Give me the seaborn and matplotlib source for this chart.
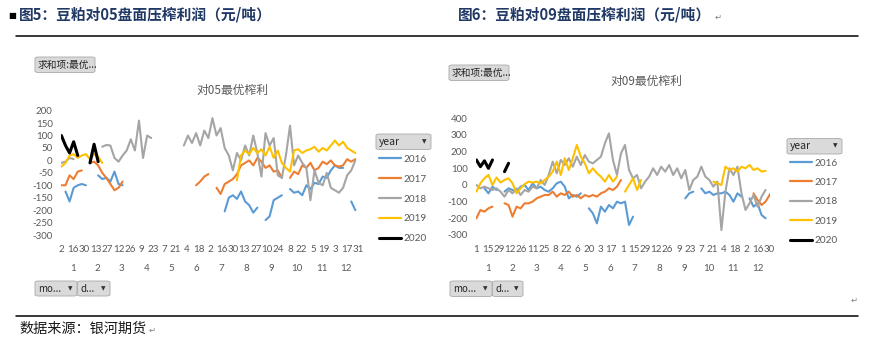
import numpy as np
import pandas as pd
import matplotlib
matplotlib.use("Agg")
import matplotlib.pyplot as plt
import matplotlib.transforms as mtransforms
from matplotlib.patches import FancyBboxPatch
from matplotlib.lines import Line2D
import seaborn as sns

sns.set_theme(style="white")
plt.rcParams["font.family"] = ["Lato", "Noto Sans CJK SC", "DejaVu Sans"]
CJK = ["Noto Sans CJK SC", "DejaVu Sans"]

N = None
STEP = 5  # one value every 5 calendar categories
years = ["2016", "2017", "2018", "2019", "2020"]
colors = ["#5B9BD5", "#ED7D31", "#A5A5A5", "#FFC000", "#000000"]
month_labels = [str(m) for m in range(1, 13)]

# ---------------- left chart: 对05最优榨利 (categories start Jan 2) ----------------
left_day_labels = ["2", "16", "30", "13", "27", "12", "26", "9", "23", "7", "21", "4", "18",
                   "2", "16", "30", "13", "27", "10", "24", "8", "22", "5", "19", "3", "17", "31"]
left_month_sizes = [30, 29, 31, 30, 31, 30, 31, 31, 30, 31, 30, 31]
left_yticks = [-300, -250, -200, -150, -100, -50, 0, 50, 100, 150, 200]

l2016 = [N, -125, -165, -110, -100, -95, -100, N, N, -60, -75, -70, -85, -45, -95, -100,
         N, N, N, N, N, N, N, N, N, N, N, N, N, N, N, N, N, N, N, N, N, N, N, N,
         -205, -150, -140, -155, -125, -165, -180, -210, -190, N, -240, -225, -160, -150, -140, N,
         -115, -130, -125, -140, -100, -115, -90, -95, -65, -70, -40, -20, -30, -30, N, -165, -200]
l2017 = [-100, -100, -60, -75, -45, -40, N, -10, -5, -20, -50, -70, -95, -120, -110, -85,
         N, N, N, N, N, N, N, N, N, N, N, N, N, N, N, N, N,
         -100, -85, -65, -55, N, -110, -135, -95, -85, -75, -55, -20, -10, 0, -20, 10, -5,
         -30, -20, -45, -40, -70, N, -70, -45, -55, -20, -30, -10, -40, -30, -5, -15, 0, -20,
         -25, -20, 5, -5, 5]
l2018 = [-10, -5, 10, 5, N, N, N, N, N, N, 55, 62, 60, 10, -5, 20, 40, 85, 40, 160, 10, 100, 90,
         N, N, N, N, N, N, N,
         60, 100, 70, 110, 60, 120, 90, 170, 100, 130, 50, 20, -40, 30, 0, 60, 20, 100, 30, -65,
         110, 60, 90, -60, -70, 20, 140, -20, 20, -10, -30, -160, -40, -90, -100, -50, -110, -120,
         -130, -110, -60, -40, 0]
l2019 = [-25, -10, 20, 25, 10, 20, 25, 5, 25, 15, -10,
         N, N, N, N, N, N, N, N, N, N, N, N, N, N, N, N, N, N, N, N, N, N, N, N, N, N, N, N, N, N, N, N,
         -80, 20, 40, 25, 50, 30, 45, 20, 55, 10, 40, -10, -30, -45, 40, 45, 30, 40, 45, 55, 35, 50,
         40, 60, 80, 60, 75, 50, 40, 30]
l2020 = [100, 60, 30, 75, 20, N, N, -10, 65, -5] + [N] * 63

# ---------------- right chart: 对09最优榨利 (categories start Jan 1) ----------------
right_day_labels = ["1", "15", "29", "12", "26", "11", "25", "8", "22", "6", "20", "3", "17",
                    "1", "15", "29", "12", "26", "9", "23", "7", "21", "4", "18", "2", "16", "30"]
right_month_sizes = [31, 29, 31, 30, 31, 30, 31, 31, 30, 31, 30, 31]
right_yticks = [-300, -200, -100, 0, 100, 200, 300, 400]

r2016 = [N, N, -20, -50, -10, -30, N, -40, -20, -30, -40, -10, 0, -30, 10, -20, -10, -30, -40, -20,
         10, 20, -10, -80, -60, -70, -50, N, -140, -170, -230, -130, -160, -120, -140, -100, -110,
         -100, -240, -190, N, N, N, N, N, N, N, N, N, N, N, N,
         -80, -50, -40, N, -20, -50, -40, -60, -50, -50, -40, -60, -100, -50, -70, N, -80, -130,
         -110, -180, -200]
r2017 = [-200, -150, -160, -140, -130, N, N, -110, -120, -190, -130, -140, -110, -110, -100, -80,
         -70, -60, -60, -40, -70, -50, -60, -40, -70, -60, -80, -60, -70, -60, -70, -50, -40, -20,
         -30, -10, 30,
         N, N, N, N, N, N, N, N, N, N, N, N, N, N, N, N, N, N, N, N, N, N, N, N, N, N, N, N, N, N, N, N,
         -50, -90, -120, -100, -60, -20, -70, -40]
r2018 = [0, -20, -10, -20, -30, -20, -40, -70, -30, -50, -20, -60, -30, -40, -10, -20, 30, 0, 60,
         140, 70, 150, 120, 160, 110, 170, 120, 180, 140, 130, 150, 170, 250, 310, 150, 60, 190,
         240, 90, 40, 60, -20, 20, 50, 100, 60, 110, 80, 120, 60, 100, 40, 90, -30, 30, 50, 110,
         50, 30, -10, 20, -270, -40, 100, 60, 110, -50, -150, -110, -60, -130, -70, -30]
r2019 = [-40, 10, 40, 60, 0, 45, 15, 30, 40, 10, -50, -20, 5, 20, 15, 20, 10, 30, 50, 80, 140,
         60, 160, 90, 160, 240, 170, 130, 70, 100, 70, 50, 20, 60, 20, 50, N, -40, 0, 40, -30, 30,
         N, N, N, N, N, N, N, N, N, N, N, N, N, N, N, N, N,
         20, 10, 0, 110, 90, 100, 80, 110, 100, 120, 90, 100, 80, 85]
r2020 = [150, 110, 145, 100, 150, N, N, 80, 130] + [N] * 64

W, H = 870, 343
fig = plt.figure(figsize=(W / 100, H / 100), dpi=100)
fig.patch.set_facecolor("white")


def fr(x0, y0, x1, y1):
    return [x0 / W, 1 - y1 / H, (x1 - x0) / W, (y1 - y0) / H]


def to_long(series):
    rows = []
    for yr, vals in series.items():
        seg, gap = 0, True
        for k, v in enumerate(vals):
            if v is None:
                gap = True
                continue
            if gap:
                seg += 1
                gap = False
            rows.append({"cat": k * STEP, "value": v, "year": yr, "seg": f"{yr}-{seg}"})
    return pd.DataFrame(rows)


def button(x0, y0, x1, y1, label, arrow=False, fs=7):
    p = FancyBboxPatch((x0 / W, 1 - y1 / H), (x1 - x0) / W, (y1 - y0) / H,
                       boxstyle="round,pad=0,rounding_size=0.004", transform=fig.transFigure,
                       facecolor="#DADADA", edgecolor="#A9A9A9", linewidth=0.6)
    fig.add_artist(p)
    fig.text((x0 + 3) / W, 1 - ((y0 + y1) / 2) / H, label, fontsize=fs, color="#262626",
             va="center", ha="left", family=CJK)
    if arrow:
        fig.text((x1 - 7) / W, 1 - ((y0 + y1) / 2) / H, "▼", fontsize=4.2, color="#333333",
                 va="center", ha="center", family=["DejaVu Sans"])


def panel(ax, series, n_cat, day_labels, month_sizes, yticks, ylim, title, title_xy,
          leg_xy, spacing):
    df = to_long(series)
    sns.lineplot(data=df, x="cat", y="value", hue="year", units="seg", estimator=None,
                 hue_order=years, palette=dict(zip(years, colors)), sort=False,
                 linewidth=1.5, legend=False, ax=ax)
    for ln in ax.lines:
        if matplotlib.colors.to_hex(ln.get_color()) == "#000000":
            ln.set_linewidth(2.2)
    ax.set_xlim(-0.5, n_cat - 0.5)
    ax.set_ylim(*ylim)
    ax.set_yticks(yticks)
    ax.set_yticklabels([str(t) for t in yticks])
    ax.set_xticks(list(range(0, n_cat, 14)))
    ax.set_xticklabels(day_labels)
    ax.tick_params(axis="both", length=0, labelsize=7, labelcolor="#595959")
    ax.tick_params(axis="y", pad=6)
    ax.tick_params(axis="x", pad=7)
    ax.set_xlabel("")
    ax.set_ylabel("")
    for s in ax.spines.values():
        s.set_visible(False)
    ax.set_facecolor("none")
    # month row
    tr = mtransforms.offset_copy(ax.get_xaxis_transform(), fig=fig, y=-33.5, units="dots")
    start = 0
    for lab, size in zip(month_labels, month_sizes):
        ax.text(start + size / 2 - 0.5, 0, lab, transform=tr, ha="center", va="center",
                fontsize=7, color="#595959")
        start += size
    fig.text(title_xy[0] / W, 1 - title_xy[1] / H, title, ha="center", va="center",
             fontsize=8.5, color="#595959", family=CJK)
    handles = [Line2D([], [], color=c, linewidth=(2.2 if c == "#000000" else 1.6))
               for c in colors]
    ax.legend(handles, years, loc="upper left",
              bbox_to_anchor=(leg_xy[0] / W, 1 - leg_xy[1] / H),
              bbox_transform=fig.transFigure, frameon=False, fontsize=7.2,
              labelcolor="#595959", handlelength=2.2, handletextpad=0.2,
              labelspacing=spacing, borderpad=0, borderaxespad=0)


axL = fig.add_axes(fr(61, 110.7, 359, 235))
panel(axL, {"2016": l2016, "2017": l2017, "2018": l2018, "2019": l2019, "2020": l2020},
      365, left_day_labels, left_month_sizes, left_yticks, (-300, 200),
      "对05最优榨利", (232.5, 90), (379, 155), 1.08)

axR = fig.add_axes(fr(476, 118.3, 770, 235))
panel(axR, {"2016": r2016, "2017": r2017, "2018": r2018, "2019": r2019, "2020": r2020},
      366, right_day_labels, right_month_sizes, right_yticks, (-300, 400),
      "对09最优榨利", (646, 81), (790, 158.5), 1.04)

# buttons (pivot chart field buttons)
button(35, 57, 95, 72.5, "求和项:最优...")
button(449, 65, 509, 80.5, "求和项:最优...")
button(376, 134, 431, 149.5, "year", arrow=True, fs=7.5)
button(787, 138.5, 842, 154, "year", arrow=True, fs=7.5)
button(35, 281, 77, 296, "mo...", arrow=True)
button(77.5, 281, 110, 296, "d...", arrow=True)
button(450, 281, 492, 296.5, "mo...", arrow=True)
button(492.5, 281, 523, 296.5, "d...", arrow=True)

# headings
fig.text(8 / W, 1 - 15.5 / H, "■", fontsize=6, color="#000000", va="center", ha="left",
         family=["DejaVu Sans"])
fig.text(19 / W, 1 - 15 / H, "图5：豆粕对05盘面压榨利润（元/吨）", fontsize=10.6,
         fontweight="bold", color="#1F3864", va="center", ha="left", family=CJK)
fig.text(458 / W, 1 - 15 / H, "图6：豆粕对09盘面压榨利润（元/吨）", fontsize=10.6,
         fontweight="bold", color="#1F3864", va="center", ha="left", family=CJK)
fig.text(715 / W, 1 - 17 / H, "↵", fontsize=6, color="#808080", va="center", ha="left",
         family=["DejaVu Sans"])
fig.add_artist(Line2D([16 / W, 858 / W], [1 - 35.8 / H, 1 - 35.8 / H], color="black",
                      linewidth=1.1, transform=fig.transFigure))

# bottom rule and source
fig.add_artist(Line2D([16 / W, 858 / W], [1 - 315.5 / H, 1 - 315.5 / H], color="black",
                      linewidth=1.1, transform=fig.transFigure))
fig.text(851 / W, 1 - 300 / H, "↵", fontsize=6, color="#808080", va="center", ha="left",
         family=["DejaVu Sans"])
fig.text(19 / W, 1 - 328.5 / H, "数据来源：银河期货", fontsize=10.2, color="#1A1A1A",
         va="center", ha="left", family=CJK)
fig.text(149 / W, 1 - 330 / H, "↵", fontsize=6, color="#808080", va="center", ha="left",
         family=["DejaVu Sans"])

fig.savefig("out.png", dpi=100, facecolor="white")
